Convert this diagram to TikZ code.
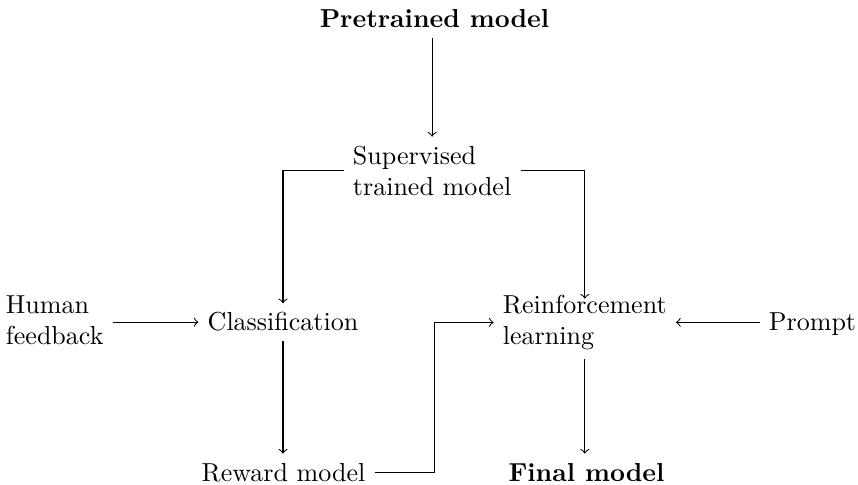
\documentclass[tikz,border=0pt]{standalone}
\usetikzlibrary{calc}
\begin{document}
\begin{tikzpicture}[x=0.3846pt, y=-0.3846pt,
  box/.style={inner sep=3.6pt, outer sep=0pt},
  multi/.style={box, align=left, anchor=north west},
  flow/.style={->}]
\useasboundingbox (0,0) rectangle (858,485);

% stages of the pipeline
\node[box, anchor=base, font=\bfseries] (pre) at (434.5,28) {Pretrained model};
\node[multi] (sup) at (343.6,136.6) {Supervised\\trained model};
\node[multi] (hum) at (-3.4,286.6) {Human\\feedback};
\node[box, anchor=base] (cls) at (283,331) {Classification};
\node[multi] (rl) at (493.6,285.6) {Reinforcement\\learning};
\node[box, anchor=base] (prm) at (812.5,331) {Prompt};
\node[box, anchor=base] (rwd) at (283.5,481) {Reward model};
\node[box, anchor=base, font=\bfseries] (fin) at (586.5,481) {Final model};

% connectors
\draw[flow] (pre.south -| sup.north) -- (sup.north);
\draw[flow] (sup.west) -| (cls.north);
\draw[flow, shorten >=-5pt] (sup.east) -| (rl.north);
\draw[flow] (hum.east |- cls.west) -- (cls.west);
\draw[flow] (cls.south) -- (cls.south |- rwd.north);
\coordinate (bend) at ($(rwd.east)!.5!(rl.west)$);
\draw[flow] (rwd.east) -| (bend |- rl.west) -- (rl.west);
\draw[flow] (prm.west |- rl.east) -- (rl.east);
\draw[flow] (rl.south) -- (rl.south |- fin.north);
\end{tikzpicture}
\end{document}
